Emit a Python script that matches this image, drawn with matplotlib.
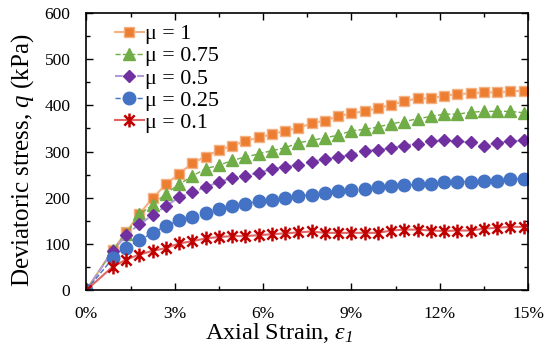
import matplotlib
matplotlib.use("Agg")
import matplotlib.pyplot as plt
from matplotlib.path import Path
from matplotlib.ticker import MultipleLocator

plt.rcParams["font.family"] = ["Liberation Serif", "DejaVu Serif"]
plt.rcParams["mathtext.fontset"] = "custom"
plt.rcParams["mathtext.rm"] = "Liberation Serif"
plt.rcParams["mathtext.it"] = "Liberation Serif:italic"
# italic digits for the subscript (mathtext forces digits upright under \mathit)
plt.rcParams["mathtext.sf"] = "Liberation Serif:italic"

# axial strain (%)
strain = [0, 0.9, 1.35, 1.8, 2.25, 2.7, 3.15, 3.6, 4.05, 4.5, 4.95, 5.4, 5.85, 6.3, 6.75,
          7.2, 7.65, 8.1, 8.55, 9.0, 9.45, 9.9, 10.35, 10.8, 11.25, 11.7, 12.15, 12.6,
          13.05, 13.5, 13.95, 14.4, 14.85]

q_mu100 = [0, 87, 125, 165, 199, 229, 252, 275, 289, 303, 313, 322, 331, 337, 345, 351,
           361, 367, 376, 383, 387, 394, 401, 409, 415, 415, 421, 424, 426, 428, 428, 430, 432]
q_mu075 = [0, 86, 122, 164, 184, 209, 229, 247, 263, 270, 281, 288, 295, 302, 308, 319,
           324, 330, 335, 345, 348, 353, 360, 365, 371, 376, 381, 381, 385, 387, 387, 387, 384]
q_mu050 = [0, 85, 119, 143, 162, 182, 201, 212, 223, 234, 243, 248, 254, 262, 267, 271,
           278, 283, 288, 293, 302, 304, 307, 313, 317, 322, 324, 322, 320, 311, 319, 322, 324]
q_mu025 = [0, 69, 92, 108, 124, 139, 151, 158, 168, 176, 182, 187, 192, 196, 200, 204,
           206, 211, 214, 216, 218, 223, 225, 227, 229, 230, 235, 235, 235, 237, 237, 241, 241]
q_mu010 = [0, 51, 66, 77, 85, 91, 101, 106, 112, 115, 117, 117, 119, 121, 123, 125,
           127, 124, 124, 124, 124, 124, 129, 131, 131, 129, 128, 129, 129, 133, 135, 137, 137]

labels = ["μ = 1", "μ = 0.75", "μ = 0.5", "μ = 0.25", "μ = 0.1"]
x_ticks = [0, 3, 6, 9, 12, 15]
x_ticklabels = ["0%", "3%", "6%", "9%", "12%", "15%"]

# excel style star: an X with a vertical bar through it
star = Path([(-1, -1), (1, 1), (-1, 1), (1, -1), (0, -1.35), (0, 1.35)],
            [Path.MOVETO, Path.LINETO, Path.MOVETO, Path.LINETO, Path.MOVETO, Path.LINETO])

fig = plt.figure(figsize=(5.5, 3.5), dpi=100)
ax = fig.add_axes([0.157, 0.171, 0.803, 0.792])

ax.plot(strain, q_mu100, color="#F4B183", lw=1.5, marker="s", ms=7.5,
        mfc="#ED7D31", mec="#F4B183", mew=1, label=labels[0])
ax.plot(strain, q_mu075, color="#70AD47", lw=1, ls="--", marker="^", ms=8.5,
        mfc="#70AD47", mec="#70AD47", mew=1, label=labels[1])
ax.plot(strain, q_mu050, color="#B19CD9", lw=1.5, ls="--", marker="D", ms=6.5,
        mfc="#7030A0", mec="#7030A0", mew=1, label=labels[2])
ax.plot(strain, q_mu025, color="#4472C4", lw=1, ls="--", marker="o", ms=9,
        mfc="#4472C4", mec="#4472C4", mew=1, label=labels[3])
ax.plot(strain, q_mu010, color="#E06666", lw=1.5, marker=star, ms=10,
        mfc="none", mec="#C00000", mew=1.8, label=labels[4])

ax.set_xlim(0, 15)
ax.set_ylim(0, 600)
ax.set_xticks(x_ticks)
ax.set_xticklabels(x_ticklabels)
ax.xaxis.set_minor_locator(MultipleLocator(1.5))
ax.yaxis.set_major_locator(MultipleLocator(100))
ax.yaxis.set_minor_locator(MultipleLocator(50))
ax.tick_params(which="both", direction="in", top=True, right=True, labelsize=12.5, width=1)
ax.tick_params(which="major", length=5, pad=11.5)
ax.tick_params(which="minor", length=3)
for s in ax.spines.values():
    s.set_linewidth(1.2)

ax.set_xlabel(r"Axial Strain, $\varepsilon_{\mathsf{1}}$", fontsize=17.5)
ax.xaxis.set_label_coords(0.437, -0.11)
ax.set_ylabel(r"Deviatoric stress, $q$ (kPa)", fontsize=18)
ax.yaxis.set_label_coords(-0.113, 0.469)

ax.legend(loc="upper left", frameon=False, fontsize=15.8, handlelength=1.3,
          handletextpad=0.08, labelspacing=0.08, borderaxespad=0.1,
          bbox_to_anchor=(0.04, 1.0))

fig.savefig("out.png", dpi=100)
